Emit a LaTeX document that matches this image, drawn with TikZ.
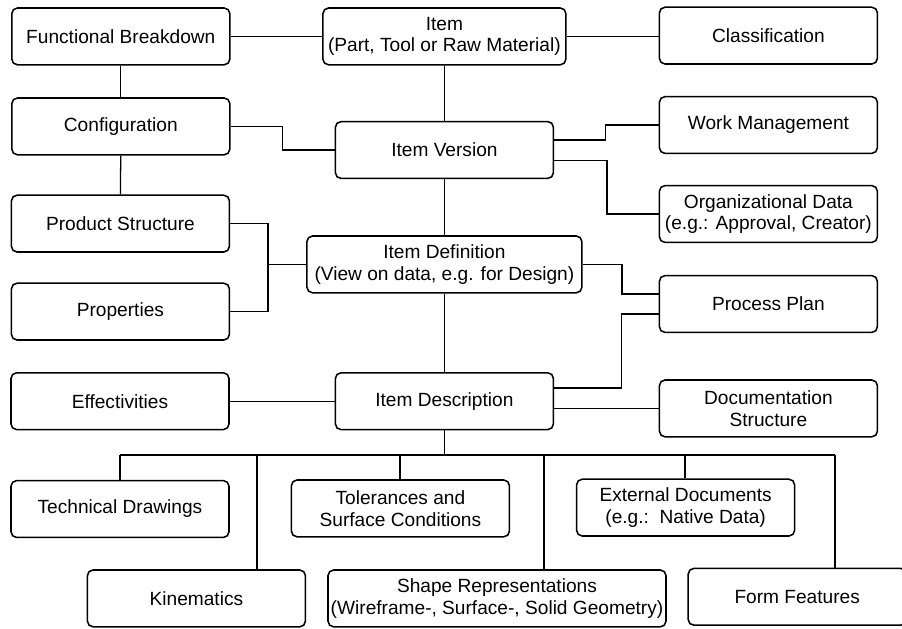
\documentclass[tikz,border=0pt]{standalone}
\usepackage{fontspec}
\setmainfont{Liberation Sans}
\begin{document}
\begin{tikzpicture}[
  box/.style={draw, rectangle, rounded corners=4pt, line width=1.1pt, minimum width=5.45cm, minimum height=1.42cm, align=center, inner sep=2pt, font={\fontsize{13.6}{15.5}\selectfont}},
  link/.style={line width=0.9pt}
]

% Frame
\useasboundingbox (0,0) rectangle (22.55,-15.7);

% Left column
\node (fb) at (3.02, -0.91) [box] {Functional Breakdown};
\node (conf) at (3.02, -3.16) [box] {Configuration};
\node (ps) at (3.01, -5.59) [box] {Product Structure};
\node (prop) at (3.01, -7.79) [box] {Properties};
\node (eff) at (3.0, -10.03) [box] {Effectivities};

% Middle column
\node (item) at (11.11, -0.91) [box, minimum width=6.075cm] {Item\\(Part, Tool or Raw Material)};
\node (iv) at (11.11, -3.75) [box] {Item Version};
\node (idef) at (11.11, -6.61) [box, minimum width=6.875cm] {Item Definition\\(View on data, e.g. for Design)};
\node (idesc) at (11.11, -10.03) [box] {Item Description};

% Right column
\node (cls) at (19.21, -0.89) [box] {Classification};
\node (wm) at (19.21, -3.125) [box] {Work Management};
\node (org) at (19.21, -5.35) [box] {Organizational Data\\(e.g.: Approval, Creator)};
\node (pp) at (19.21, -7.6) [box] {Process Plan};
\node (doc) at (19.21, -10.21) [box] {Documentation\\Structure};

% Bottom rows
\node (td) at (3.0, -12.725) [box] {Technical Drawings};
\node (tol) at (10.01, -12.71) [box] {Tolerances and\\Surface Conditions};
\node (ext) at (17.14, -12.69) [box] {External Documents\\(e.g.:~~Native Data)};
\node (kin) at (4.91, -14.96) [box] {Kinematics};
\node (shape) at (12.425, -14.96) [box, minimum width=8.45cm, inner sep=1pt] {Shape Representations\\(Wireframe-, Surface-, Solid Geometry)};
\node (ff) at (19.93, -14.92) [box] {Form Features};

% Connections
\draw[link] (fb) -- (item);
\draw[link] (item.east) -- (item.east -| cls.west);
\draw[link] (fb) -- (conf);
\draw[link] (conf) -- (ps);
\draw[link] (item) -- (iv);
\draw[link] (iv) -- (idef);
\draw[link] (idef) -- (idesc);
\draw[link] (eff) -- (idesc);
\draw[link] (conf.east) -- ++(1.3,0) |- (iv.west);
\draw[link] ([yshift=0.25cm]iv.east) -- ++(1.28,0) |- (wm.west);
\draw[link] ([yshift=-0.27cm]iv.east) -- ++(1.32,0) |- (org.west);
\coordinate (pj) at (6.7,-6.61);
\draw[link] (ps.east) -| (pj) |- (prop.east);
\draw[link] (pj) -- (idef.west);
\draw[link] (idef.east) -- ++(0.98,0) |- ([yshift=0.25cm]pp.west);
\draw[link] ([yshift=-0.25cm]pp.west) -- ++(-0.92,0) |- ([yshift=0.33cm]idesc.east);
\draw[link] ([yshift=-0.18cm]idesc.east) -- ([yshift=-0.18cm]idesc.east -| doc.west);

% Tree below Item Description
\coordinate (bus) at (11.11,-11.375);
\draw[link] (idesc) -- (bus);
\draw[link] (td.north |- bus) -- (20.875,-11.375);
\foreach \x/\n in {3.0/td, 6.425/kin, 10.0/tol, 13.6/shape, 17.125/ext, 20.875/ff}
  \draw[link] (\x,-11.375) -- (\x,0 |- \n.north);

\end{tikzpicture}
\end{document}
